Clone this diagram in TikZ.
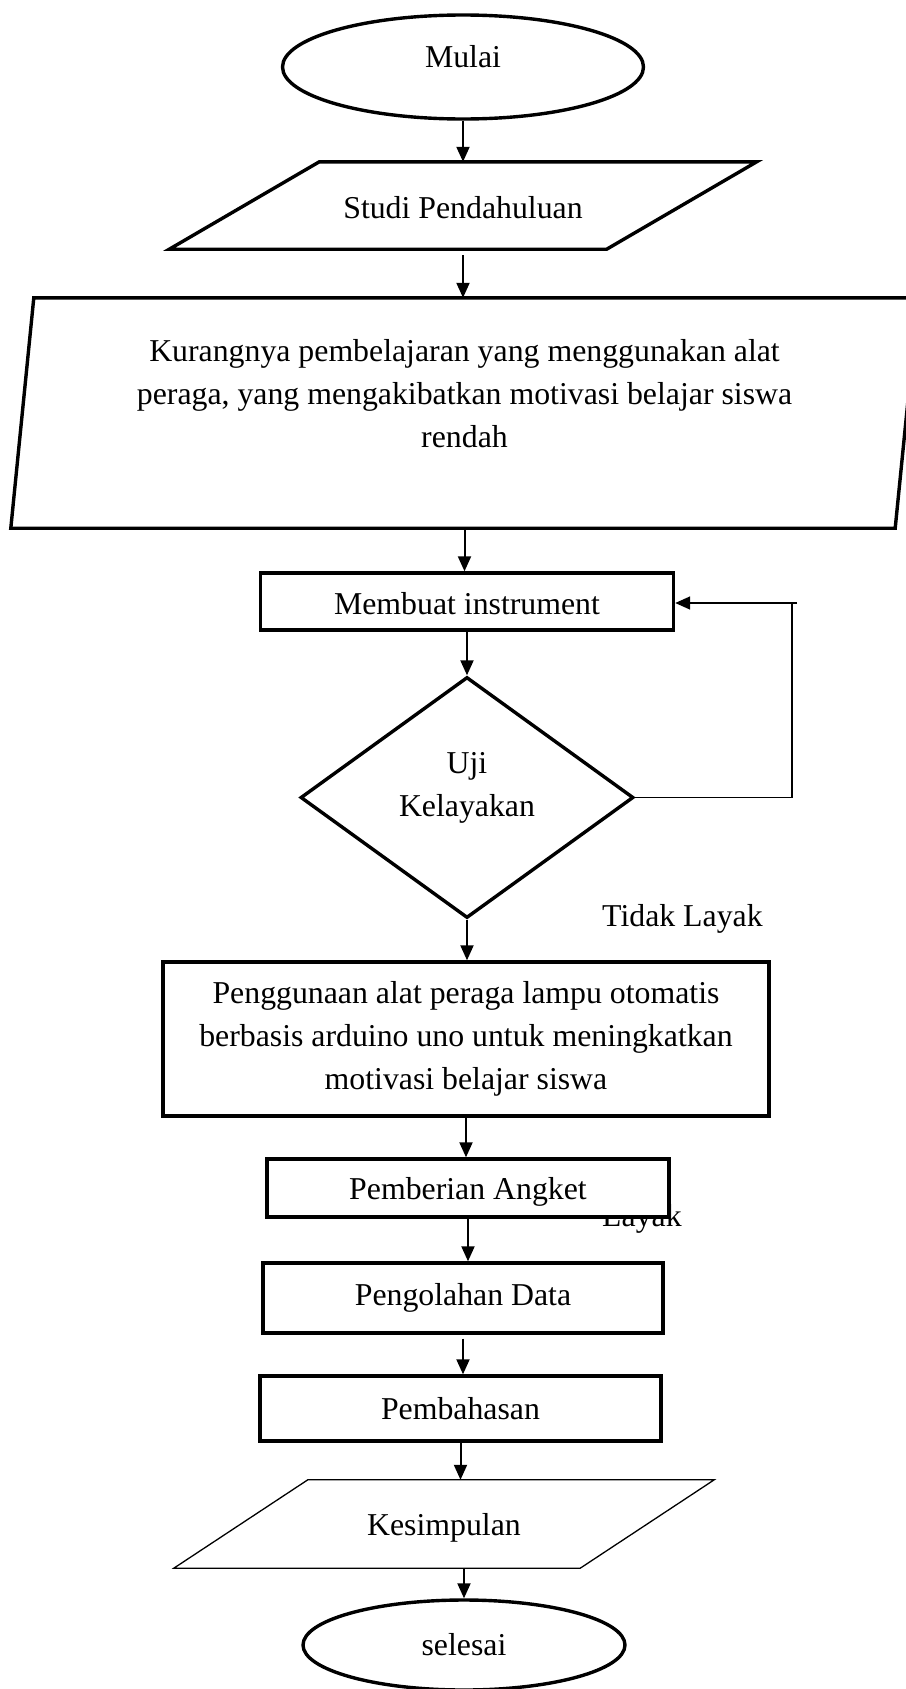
\documentclass[tikz,border=0pt]{standalone}
\usepackage{fontspec}
\setmainfont{Liberation Serif}
\usetikzlibrary{arrows.meta, shapes.geometric, positioning}

\begin{document}
\begin{tikzpicture}[x=1pt, y=-1pt, >={Triangle[length=15pt,width=13pt]},
	every node/.style={font=\fontsize{31.8}{43}\selectfont, align=center, inner sep=0pt},
	terminal/.style={ellipse, draw, line width=3.4pt},
	proses/.style={rectangle, draw, fill=white, line width=3.4pt},
	keputusan/.style={diamond, draw, line width=3.4pt},
	miring/.style={rectangle},
	panah/.style={line width=2pt, ->},
	balik/.style={line width=1.6pt}]
	
	\useasboundingbox (0,0) rectangle (905,1689);
	
	%Simpul
	\node (mulai) [terminal, minimum width=361pt, minimum height=104pt, text depth=22pt] at (463,67) {Mulai};
	\node (studi) [miring, minimum width=587pt, minimum height=87pt, text height=26pt] at (463,205.5) {Studi Pendahuluan};
	\node (kurang) [miring, minimum width=907pt, minimum height=230pt, text depth=40pt] at (464.5,413)
		{Kurangnya pembelajaran yang menggunakan alat\\peraga, yang mengakibatkan motivasi belajar siswa\\rendah};
	\node (membuat) [proses, minimum width=413pt, minimum height=57pt, text height=27pt] at (467,601.5) {Membuat instrument};
	\node (uji) [keputusan, minimum width=333pt, minimum height=241pt, text depth=26pt] at (467,797.5) {Uji\\Kelayakan};
	\node (tidak) [anchor=base west] at (602,926) {Tidak Layak};
	\node (penggunaan) [proses, minimum width=606pt, minimum height=154pt] at (466,1039)
		{Penggunaan alat peraga lampu otomatis\\berbasis arduino uno untuk meningkatkan\\motivasi belajar siswa};
	\node (layak) [anchor=base west] at (602,1226) {Layak};
	\node (pemberian) [proses, minimum width=402pt, minimum height=58pt, text depth=0pt] at (468,1188) {Pemberian Angket};
	\node (pengolahan) [proses, minimum width=400pt, minimum height=70pt] at (463,1298) {Pengolahan Data};
	\node (pembahasan) [proses, minimum width=401pt, minimum height=65pt] at (460.5,1408.5) {Pembahasan};
	\node (kesimpulan) [miring, minimum width=540pt, minimum height=88pt, text depth=0pt] at (444,1524) {Kesimpulan};
	\node (selesai) [terminal, minimum width=322pt, minimum height=90pt] at (464,1645) {selesai};
	\coordinate (kanan) at (792,603);
	
	%Jajaran genjang
	\draw[line width=3.4pt] ([xshift=150pt]studi.north west) -- (studi.north east)
		-- ([xshift=-150pt]studi.south east) -- (studi.south west) -- cycle;
	\draw[line width=3.4pt] ([xshift=23pt]kurang.north west) -- (kurang.north east)
		-- ([xshift=-23pt]kurang.south east) -- (kurang.south west) -- cycle;
	\draw[line width=1.3pt] ([xshift=134pt]kesimpulan.north west) -- (kesimpulan.north east)
		-- ([xshift=-134pt]kesimpulan.south east) -- (kesimpulan.south west) -- cycle;
	
	%Panah
	\path[panah]
	(mulai) edge (mulai |- studi.north)
	(studi) edge [shorten <=6pt] (studi |- kurang.north)
	(kurang) edge (kurang |- membuat.north)
	(membuat) edge (membuat |- uji.north)
	(uji) edge (uji |- penggunaan.north)
	(penggunaan) edge (penggunaan |- pemberian.north)
	(pemberian) edge (pemberian |- pengolahan.north)
	(pengolahan) edge [shorten <=4pt] (pengolahan |- pembahasan.north)
	(pembahasan) edge (pembahasan |- kesimpulan.north)
	(kesimpulan.south -| selesai) edge (selesai);
	
	\draw[balik] (uji.east) -| (kanan);
	\draw[balik, ->] ([xshift=5pt]kanan) -- (kanan -| membuat.east);
	
\end{tikzpicture}
\end{document}
